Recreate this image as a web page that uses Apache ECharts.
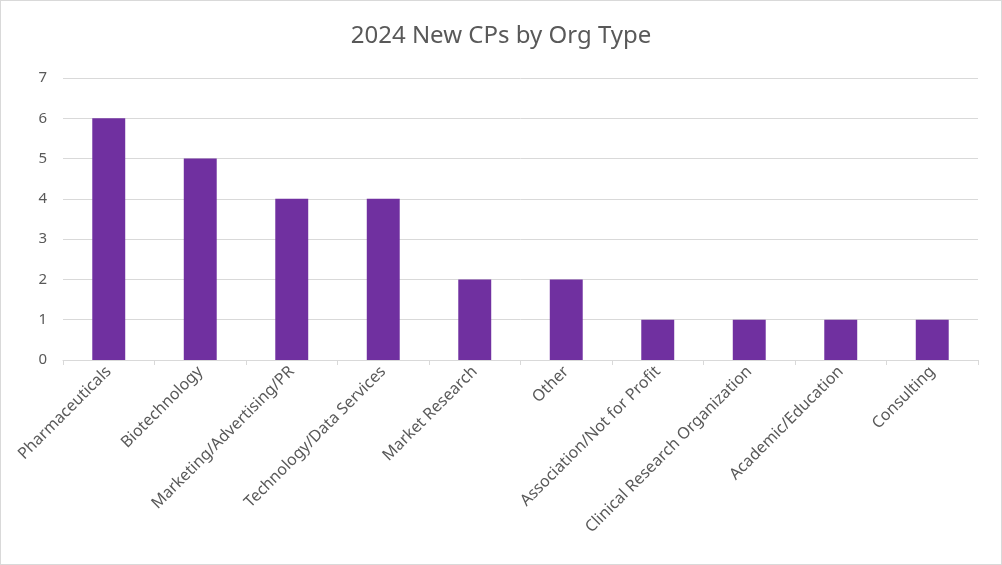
<!DOCTYPE html>
<html><head><meta charset="utf-8">
<script src="https://cdn.jsdelivr.net/npm/echarts@6/dist/echarts.min.js"></script>
<style>
html,body{margin:0;padding:0;background:#fff;}
#c{width:1002px;height:565px;box-sizing:border-box;border:1px solid #d9d9d9;}
</style></head>
<body><div id="c"></div>
<script>
const categories = ["Pharmaceuticals","Biotechnology","Marketing/Advertising/PR","Technology/Data Services","Market Research","Other","Association/Not for Profit","Clinical Research Organization","Academic/Education","Consulting"];
const values = [6,5,4,4,2,2,1,1,1,1];
const title = "2024 New CPs by Org Type";
const font = "'Noto Sans', 'Open Sans', sans-serif";
const chart = echarts.init(document.getElementById('c'), null, {renderer:'canvas'});
chart.setOption({
  animation:false,
  title:{text:title,left:'center',top:18,textStyle:{fontFamily:font,fontSize:24,fontWeight:'normal',color:'#595959'}},
  grid:{left:62,right:23,top:77,bottom:204,containLabel:false},
  xAxis:{type:'category',data:categories,
    axisLine:{lineStyle:{color:'#d9d9d9',width:1}},
    axisTick:{show:true,length:5,lineStyle:{color:'#d9d9d9'}},
    axisLabel:{rotate:45,interval:0,color:'#595959',fontFamily:font,fontSize:16,margin:9}},
  yAxis:{type:'value',min:0,max:7,interval:1,
    axisLine:{show:false},axisTick:{show:false},
    axisLabel:{color:'#595959',fontFamily:font,fontSize:15,margin:16},
    splitLine:{lineStyle:{color:'#d9d9d9',width:1}}},
  series:[{type:'bar',data:values,barWidth:'36%',itemStyle:{color:'#7030A0'}}]
});
</script></body></html>
